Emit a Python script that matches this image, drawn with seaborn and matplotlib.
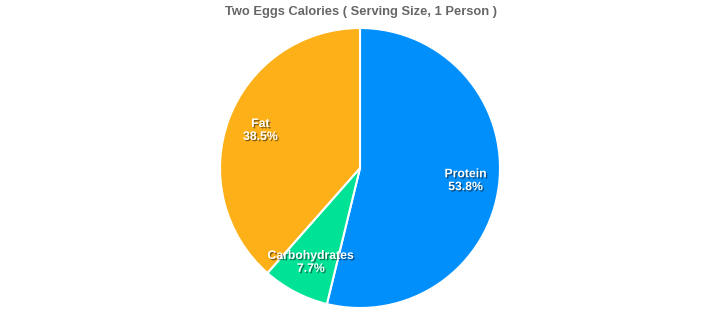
import matplotlib
matplotlib.use("Agg")
import matplotlib.pyplot as plt
import matplotlib.patheffects as pe
import seaborn as sns

# data
categories = ["Protein", "Carbohydrates", "Fat"]
percents = [53.8, 7.7, 38.5]
colors = ["#008FFB", "#00E396", "#FEB019"]

sns.set_theme(style="white")
plt.rcParams["font.family"] = ["Liberation Sans", "DejaVu Sans"]

fig = plt.figure(figsize=(7.18, 3.23), dpi=100)
# pie centred at (360,168) px, radius 140 px
ax = fig.add_axes([(360 - 140) / 718, (323 - 168 - 140) / 323, 280 / 718, 280 / 323])

labels = [f"{c}\n{p}%" for c, p in zip(categories, percents)]
wedges, texts = ax.pie(
    percents,
    labels=labels,
    colors=colors,
    startangle=90,
    counterclock=False,
    labeldistance=0.76,
    wedgeprops=dict(edgecolor="white", linewidth=1.5),
    textprops=dict(color="white", fontsize=8.8, fontweight="bold", linespacing=1.1),
)
for t in texts:
    t.set_ha("center")
    t.set_va("center")
    t.set_path_effects([pe.withSimplePatchShadow(offset=(1, -1), shadow_rgbFace="black", alpha=0.45)])

ax.set_xlim(-1, 1)
ax.set_ylim(-1, 1)
ax.set_aspect("equal")
ax.axis("off")

fig.text(361 / 718, 1 - 12 / 323, "Two Eggs Calories ( Serving Size, 1 Person )",
         ha="center", va="center", fontsize=9.3, fontweight="bold", color="#666666")

fig.savefig("out.png", dpi=100)
